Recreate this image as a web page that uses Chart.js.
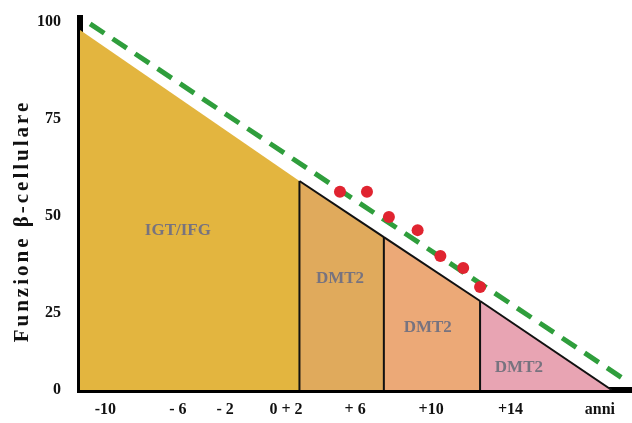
<!DOCTYPE html>
<html>
<head>
<meta charset="utf-8">
<script src="https://cdn.jsdelivr.net/npm/chart.js@4"></script>
<style>
  html, body { margin: 0; padding: 0; background: #fff; }
  #wrap { width: 632px; height: 423px; }
</style>
</head>
<body>
<div id="wrap"><canvas id="myChart" width="632" height="423"></canvas></div>
<script>
// years on x, beta-cell function on y
const xTickPos = [-10, -5.7, -2.9, 0.7, 4.8, 9.3, 14, 19.3];
const xTickLabels = ["-10", "- 6", "- 2", "0 + 2", "+ 6", "+10", "+14", "anni"];
const yTickPos = [5, 25, 50, 75, 100];
const yTickLabels = ["0", "25", "50", "75", "100"];

// stages of the decline (boundaries)
const igtArea = [{ x: -11.5, y: 98 }, { x: 1.5, y: 59 }];
const dmt2Area1 = [{ x: 1.5, y: 59 }, { x: 6.5, y: 44.5 }];
const dmt2Area2 = [{ x: 6.5, y: 44.5 }, { x: 12.2, y: 28 }];
const dmt2Area3 = [{ x: 12.2, y: 28 }, { x: 20, y: 5 }];
const dividers = [
  { x: 1.5, y: 5 }, { x: 1.5, y: 59 }, { x: 1.5, y: null },
  { x: 6.5, y: 5 }, { x: 6.5, y: 44.5 }, { x: 6.5, y: null },
  { x: 12.2, y: 5 }, { x: 12.2, y: 28 },
];
const expectedLine = [{ x: -10.9, y: 99.6 }, { x: 21, y: 7 }];
const redDots = [
  { x: 3.9, y: 56.2 }, { x: 5.5, y: 56.2 }, { x: 6.8, y: 49.7 }, { x: 8.5, y: 46.3 },
  { x: 9.85, y: 39.6 }, { x: 11.2, y: 36.5 }, { x: 12.2, y: 31.6 },
];
const areaLabels = [
  { text: "IGT/IFG", x: -5.7, y: 46.3 },
  { text: "DMT2", x: 3.9, y: 33.9 },
  { text: "DMT2", x: 9.1, y: 21 },
  { text: "DMT2", x: 14.5, y: 10.7 },
];

const SERIF = "'Liberation Serif', 'DejaVu Serif', serif";

// writes the stage names and the rotated y title
const textPlugin = {
  id: "texts",
  afterDatasetsDraw(chart) {
    const ctx = chart.ctx;
    const xs = chart.scales.x;
    const ys = chart.scales.y;
    ctx.save();
    ctx.font = "bold 17px " + SERIF;
    ctx.fillStyle = "#77737f";
    ctx.textAlign = "center";
    ctx.textBaseline = "middle";
    areaLabels.forEach((l) => {
      ctx.fillText(l.text, xs.getPixelForValue(l.x), ys.getPixelForValue(l.y));
    });
    ctx.restore();

    ctx.save();
    ctx.translate(23, 221);
    ctx.rotate(-Math.PI / 2);
    ctx.font = "bold 21px " + SERIF;
    ctx.letterSpacing = "3px";
    ctx.fillStyle = "#111";
    ctx.textAlign = "center";
    ctx.textBaseline = "middle";
    ctx.fillText("Funzione β-cellulare", 0, 0);
    ctx.restore();
  },
};

const ctx = document.getElementById("myChart").getContext("2d");
const myChart = new Chart(ctx, {
  type: "line",
  data: {
    datasets: [
      {
        data: igtArea,
        backgroundColor: "#e3b53f",
        borderWidth: 0,
        fill: "start",
        pointRadius: 0,
        order: 4,
      },
      {
        data: dmt2Area1,
        backgroundColor: "#e0aa5c",
        borderColor: "#111",
        borderWidth: 2,
        fill: "start",
        pointRadius: 0,
        order: 4,
      },
      {
        data: dmt2Area2,
        backgroundColor: "#eca977",
        borderColor: "#111",
        borderWidth: 2,
        fill: "start",
        pointRadius: 0,
        order: 4,
      },
      {
        data: dmt2Area3,
        backgroundColor: "#e8a4b3",
        borderColor: "#111",
        borderWidth: 2,
        fill: "start",
        pointRadius: 0,
        order: 4,
      },
      {
        data: dividers,
        borderColor: "#111",
        borderWidth: 2,
        fill: false,
        pointRadius: 0,
        spanGaps: false,
        order: 2,
      },
      {
        data: expectedLine,
        borderColor: "#2f9e3c",
        borderWidth: 5,
        borderDash: [17, 10],
        fill: false,
        pointRadius: 0,
        order: 1,
      },
      {
        data: redDots,
        showLine: false,
        pointRadius: 6,
        pointBackgroundColor: "#e02430",
        pointBorderWidth: 0,
        order: 0,
      },
    ],
  },
  options: {
    responsive: false,
    animation: false,
    layout: { autoPadding: false, padding: { top: 18, left: 0, right: 0, bottom: 0 } },
    plugins: {
      legend: { display: false },
      tooltip: { enabled: false },
    },
    scales: {
      x: {
        type: "linear",
        min: -11.5,
        max: 21.2,
        grid: { display: false, drawTicks: false },
        border: { display: true, color: "#000", width: 6 },
        afterBuildTicks: (scale) => {
          scale.ticks = xTickPos.map((v) => ({ value: v }));
        },
        afterFit: (scale) => {
          scale.height = 33;
          scale.paddingLeft = 0;
          scale.paddingRight = 0;
        },
        ticks: {
          autoSkip: false,
          maxRotation: 0,
          padding: 10,
          color: "#111",
          font: { family: SERIF, size: 16, weight: "bold" },
          callback: (v, i) => xTickLabels[i],
        },
      },
      y: {
        type: "linear",
        min: 5,
        max: 101.1,
        grid: { display: false, drawTicks: false },
        border: { display: true, color: "#000", width: 6 },
        afterBuildTicks: (scale) => {
          scale.ticks = yTickPos.map((v) => ({ value: v }));
        },
        afterFit: (scale) => {
          scale.width = 80;
          scale.paddingTop = 0;
          scale.paddingBottom = 0;
        },
        ticks: {
          padding: 19,
          color: "#111",
          font: { family: SERIF, size: 16, weight: "bold" },
          callback: (v, i) => yTickLabels[i],
        },
      },
    },
  },
  plugins: [textPlugin],
});
</script>
</body>
</html>
